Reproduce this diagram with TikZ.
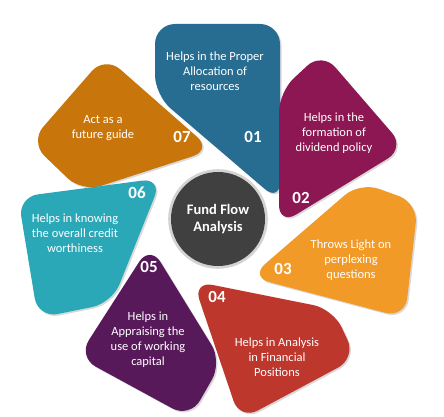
\documentclass[tikz,border=0pt]{standalone}
\usepackage{fontspec}
\setmainfont{Carlito}
\usepackage{xcolor}
\usepackage{tikz}
\definecolor{petalblue}{RGB}{39,108,145}
\definecolor{petalmagenta}{RGB}{141,23,82}
\definecolor{petalorange}{RGB}{242,154,40}
\definecolor{petalred}{RGB}{190,55,45}
\definecolor{petalpurple}{RGB}{88,25,90}
\definecolor{petalteal}{RGB}{43,168,183}
\definecolor{petalbrown}{RGB}{200,118,12}
\definecolor{hubgray}{RGB}{64,64,64}
\usetikzlibrary{shadows}

\begin{document}
\begin{tikzpicture}[
    x=1pt, y=-1pt,
    petal/.style={rounded corners=20pt, drop shadow={opacity=0.3, shadow xshift=1.5pt, shadow yshift=-1.5pt}},
    num/.style={text=white, font=\fontsize{17}{17}\selectfont\bfseries},
    info/.style={text=white, align=center, font=\fontsize{12.5}{15}\selectfont},
    hub/.style={circle, fill=hubgray, minimum size=94pt, text=white, align=center, font=\fontsize{14.5}{17}\selectfont\bfseries, drop shadow={opacity=0.35, shadow xshift=0pt, shadow yshift=0pt, shadow scale=1.06}}
]
    \useasboundingbox (0,0) rectangle (444,417);

    % petals, bottom to top
    \fill[petalblue, petal] (155,24) -- (280,24) -- (280,202) -- (155,95) -- cycle;
    \fill[petalbrown, petal] (105,56) -- (212,150) -- (82,192) -- (30,142) -- cycle;
    \fill[petalteal, petal] (18,197) -- (162,178) -- (112,303) -- (38,318) -- cycle;
    \fill[petalpurple, petal] (150,245) -- (222,362) -- (190,418) -- (78,357) -- cycle;
    \fill[petalred, petal] (193,281) -- (333,309) -- (356,358) -- (240,420) -- cycle;
    \fill[petalorange, petal] (360,182) -- (418,203) -- (405,318) -- (250,277) -- cycle;
    \fill[petalmagenta, petal] (279,92) -- (322,52) -- (405,148) -- (279,225) -- cycle;

    \node[hub] (hub) at (218,219) {Fund Flow\\Analysis};

    \node[info] (t1) at (215,71) {Helps in the Proper\\Allocation of\\resources};
    \node[info] (t2) at (334,133) {Helps in the\\formation of\\dividend policy};
    \node[info] (t3) at (351,260) {Throws Light on\\perplexing\\questions};
    \node[info] (t4) at (277,357) {Helps in Analysis\\in Financial\\Positions};
    \node[info] (t5) at (148,340) {Helps in\\Appraising the\\use of working\\capital};
    \node[info] (t6) at (75,233) {Helps in knowing\\the overall credit\\worthiness};
    \node[info] (t7) at (103,128) {Act as a\\future guide};

    \node[num] (n1) at (253,137) {01};
    \node[num] (n2) at (301,198) {02};
    \node[num] (n3) at (283,269) {03};
    \node[num] (n4) at (217,297) {04};
    \node[num] (n5) at (149,267) {05};
    \node[num] (n6) at (137,193) {06};
    \node[num] (n7) at (182,137) {07};
\end{tikzpicture}
\end{document}
